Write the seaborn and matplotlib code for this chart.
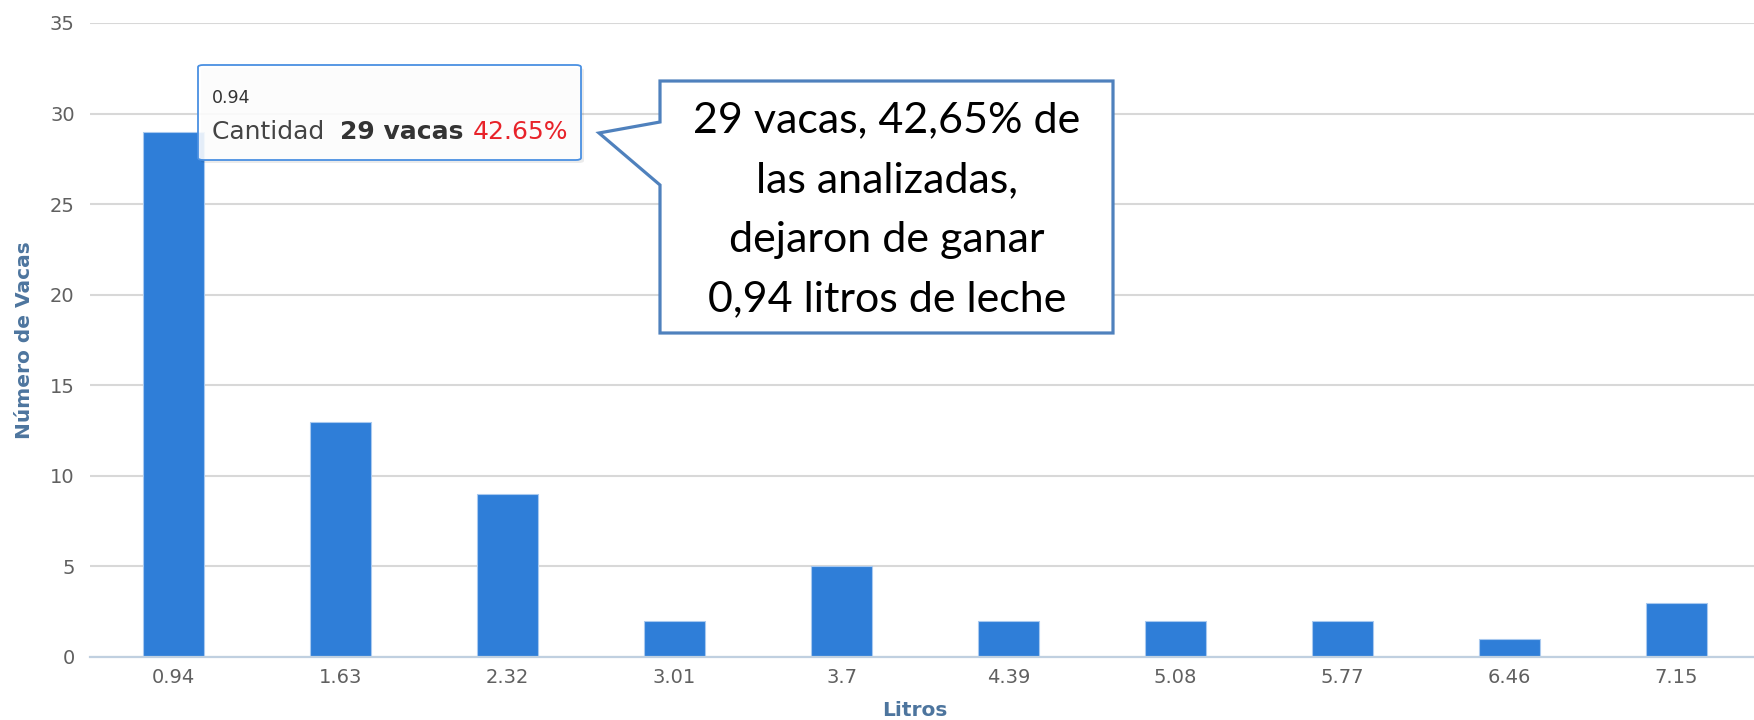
import matplotlib
matplotlib.use("Agg")
import matplotlib.pyplot as plt
import seaborn as sns
import pandas as pd
from matplotlib.patches import FancyBboxPatch, Polygon

# datos
litros = ["0.94", "1.63", "2.32", "3.01", "3.7", "4.39", "5.08", "5.77", "6.46", "7.15"]
vacas = [29, 13, 9, 2, 5, 2, 2, 2, 1, 3]
y_ticks = [0, 5, 10, 15, 20, 25, 30, 35]

tip_cat = "0.94"
tip_label = "Cantidad"
tip_value = "29 vacas"
tip_pct = "42.65%"
callout_lines = ["29 vacas, 42,65% de", "las analizadas,", "dejaron de ganar", "0,94 litros de leche"]

sns.set_theme(style="white")
plt.rcParams["font.family"] = ["DejaVu Sans"]

W, H = 1754, 720
fig = plt.figure(figsize=(W / 100, H / 100), dpi=100)
ax = fig.add_axes([90 / W, (H - 657) / H, 1670 / W, 634 / H])

df = pd.DataFrame({"Litros": litros, "Vacas": vacas})
sns.barplot(data=df, x="Litros", y="Vacas", order=litros, color="#2f7ed8",
            saturation=1, width=0.36, edgecolor="#a9c9ef", linewidth=0.8, ax=ax, zorder=3)

ax.set_ylim(0, 35)
ax.set_xlim(-0.5, len(litros) - 0.5)
ax.set_yticks(y_ticks)
ax.yaxis.grid(True, color="#d8d8d8", linewidth=1.5, zorder=0)
ax.xaxis.grid(False)
ax.set_axisbelow(True)
for s in ["top", "right", "left"]:
    ax.spines[s].set_visible(False)
ax.spines["bottom"].set_color("#c0d0e0")
ax.spines["bottom"].set_linewidth(1.6)
ax.spines["bottom"].set_zorder(4)

ax.tick_params(axis="y", length=0, pad=11, labelsize=14, labelcolor="#606060")
ax.tick_params(axis="x", which="major", length=0, pad=8, labelsize=14, labelcolor="#606060")
ax.set_xticks([i - 0.5 for i in range(len(litros) + 1)], minor=True)
ax.tick_params(axis="x", which="minor", length=5, width=1.2, color="#c0d0e0")

ax.set_xlabel("Litros", fontsize=14.5, fontweight="bold", color="#4d759e")
ax.set_ylabel("Número de Vacas", fontsize=14.5, fontweight="bold", color="#4d759e")
ax.xaxis.set_label_coords(0.494, -0.085)
ax.yaxis.set_label_coords(-0.039, 0.5)
ax.xaxis.label.set_va("center")
ax.yaxis.label.set_va("center")


def fp(x, y):
    return (x / W, 1 - y / H)


# tooltip estilo highcharts
shadow = FancyBboxPatch(fp(201, 163), 383 / W, 95 / H, boxstyle="round,pad=0,rounding_size=0.003",
                        transform=fig.transFigure, facecolor="#000000", alpha=0.08,
                        edgecolor="none", zorder=5)
fig.patches.append(shadow)
tip = FancyBboxPatch(fp(198, 160), 383 / W, 95 / H, boxstyle="round,pad=0,rounding_size=0.003",
                     transform=fig.transFigure, facecolor="white", alpha=0.88,
                     edgecolor="none", zorder=6)
fig.patches.append(tip)
tip_border = FancyBboxPatch(fp(198, 160), 383 / W, 95 / H, boxstyle="round,pad=0,rounding_size=0.003",
                            transform=fig.transFigure, facecolor="none",
                            edgecolor="#4a90e2", linewidth=1.3, zorder=7)
fig.patches.append(tip_border)

fig.text(*fp(212, 103), tip_cat, fontsize=12.5, color="#333333", va="baseline", zorder=8)
fig.canvas.draw()
r = fig.canvas.get_renderer()
t1 = fig.text(*fp(212, 139), tip_label + "  ", fontsize=18, color="#444444", va="baseline", zorder=8)
x_next = t1.get_window_extent(r).x1
t2 = fig.text(x_next / W, 1 - 139 / H, tip_value + " ", fontsize=18, fontweight="bold",
              color="#333333", va="baseline", zorder=8)
x_next = t2.get_window_extent(r).x1
fig.text(x_next / W, 1 - 139 / H, tip_pct, fontsize=18, color="#e8232a", va="baseline", zorder=8)

# llamada (callout)
pts = [fp(660, 81), fp(1113, 81), fp(1113, 333), fp(660, 333), fp(660, 185), fp(599, 133), fp(660, 122)]
call = Polygon(pts, closed=True, transform=fig.transFigure, facecolor="white",
               edgecolor="#4f81bd", linewidth=2.3, joinstyle="miter", zorder=9)
fig.patches.append(call)
fig.text(*fp(887, 210), "\n".join(callout_lines), fontsize=31, family=["Lato", "DejaVu Sans"],
         color="black", ha="center", va="center", multialignment="center",
         linespacing=1.7, zorder=10)

fig.savefig("out.png", dpi=100)
